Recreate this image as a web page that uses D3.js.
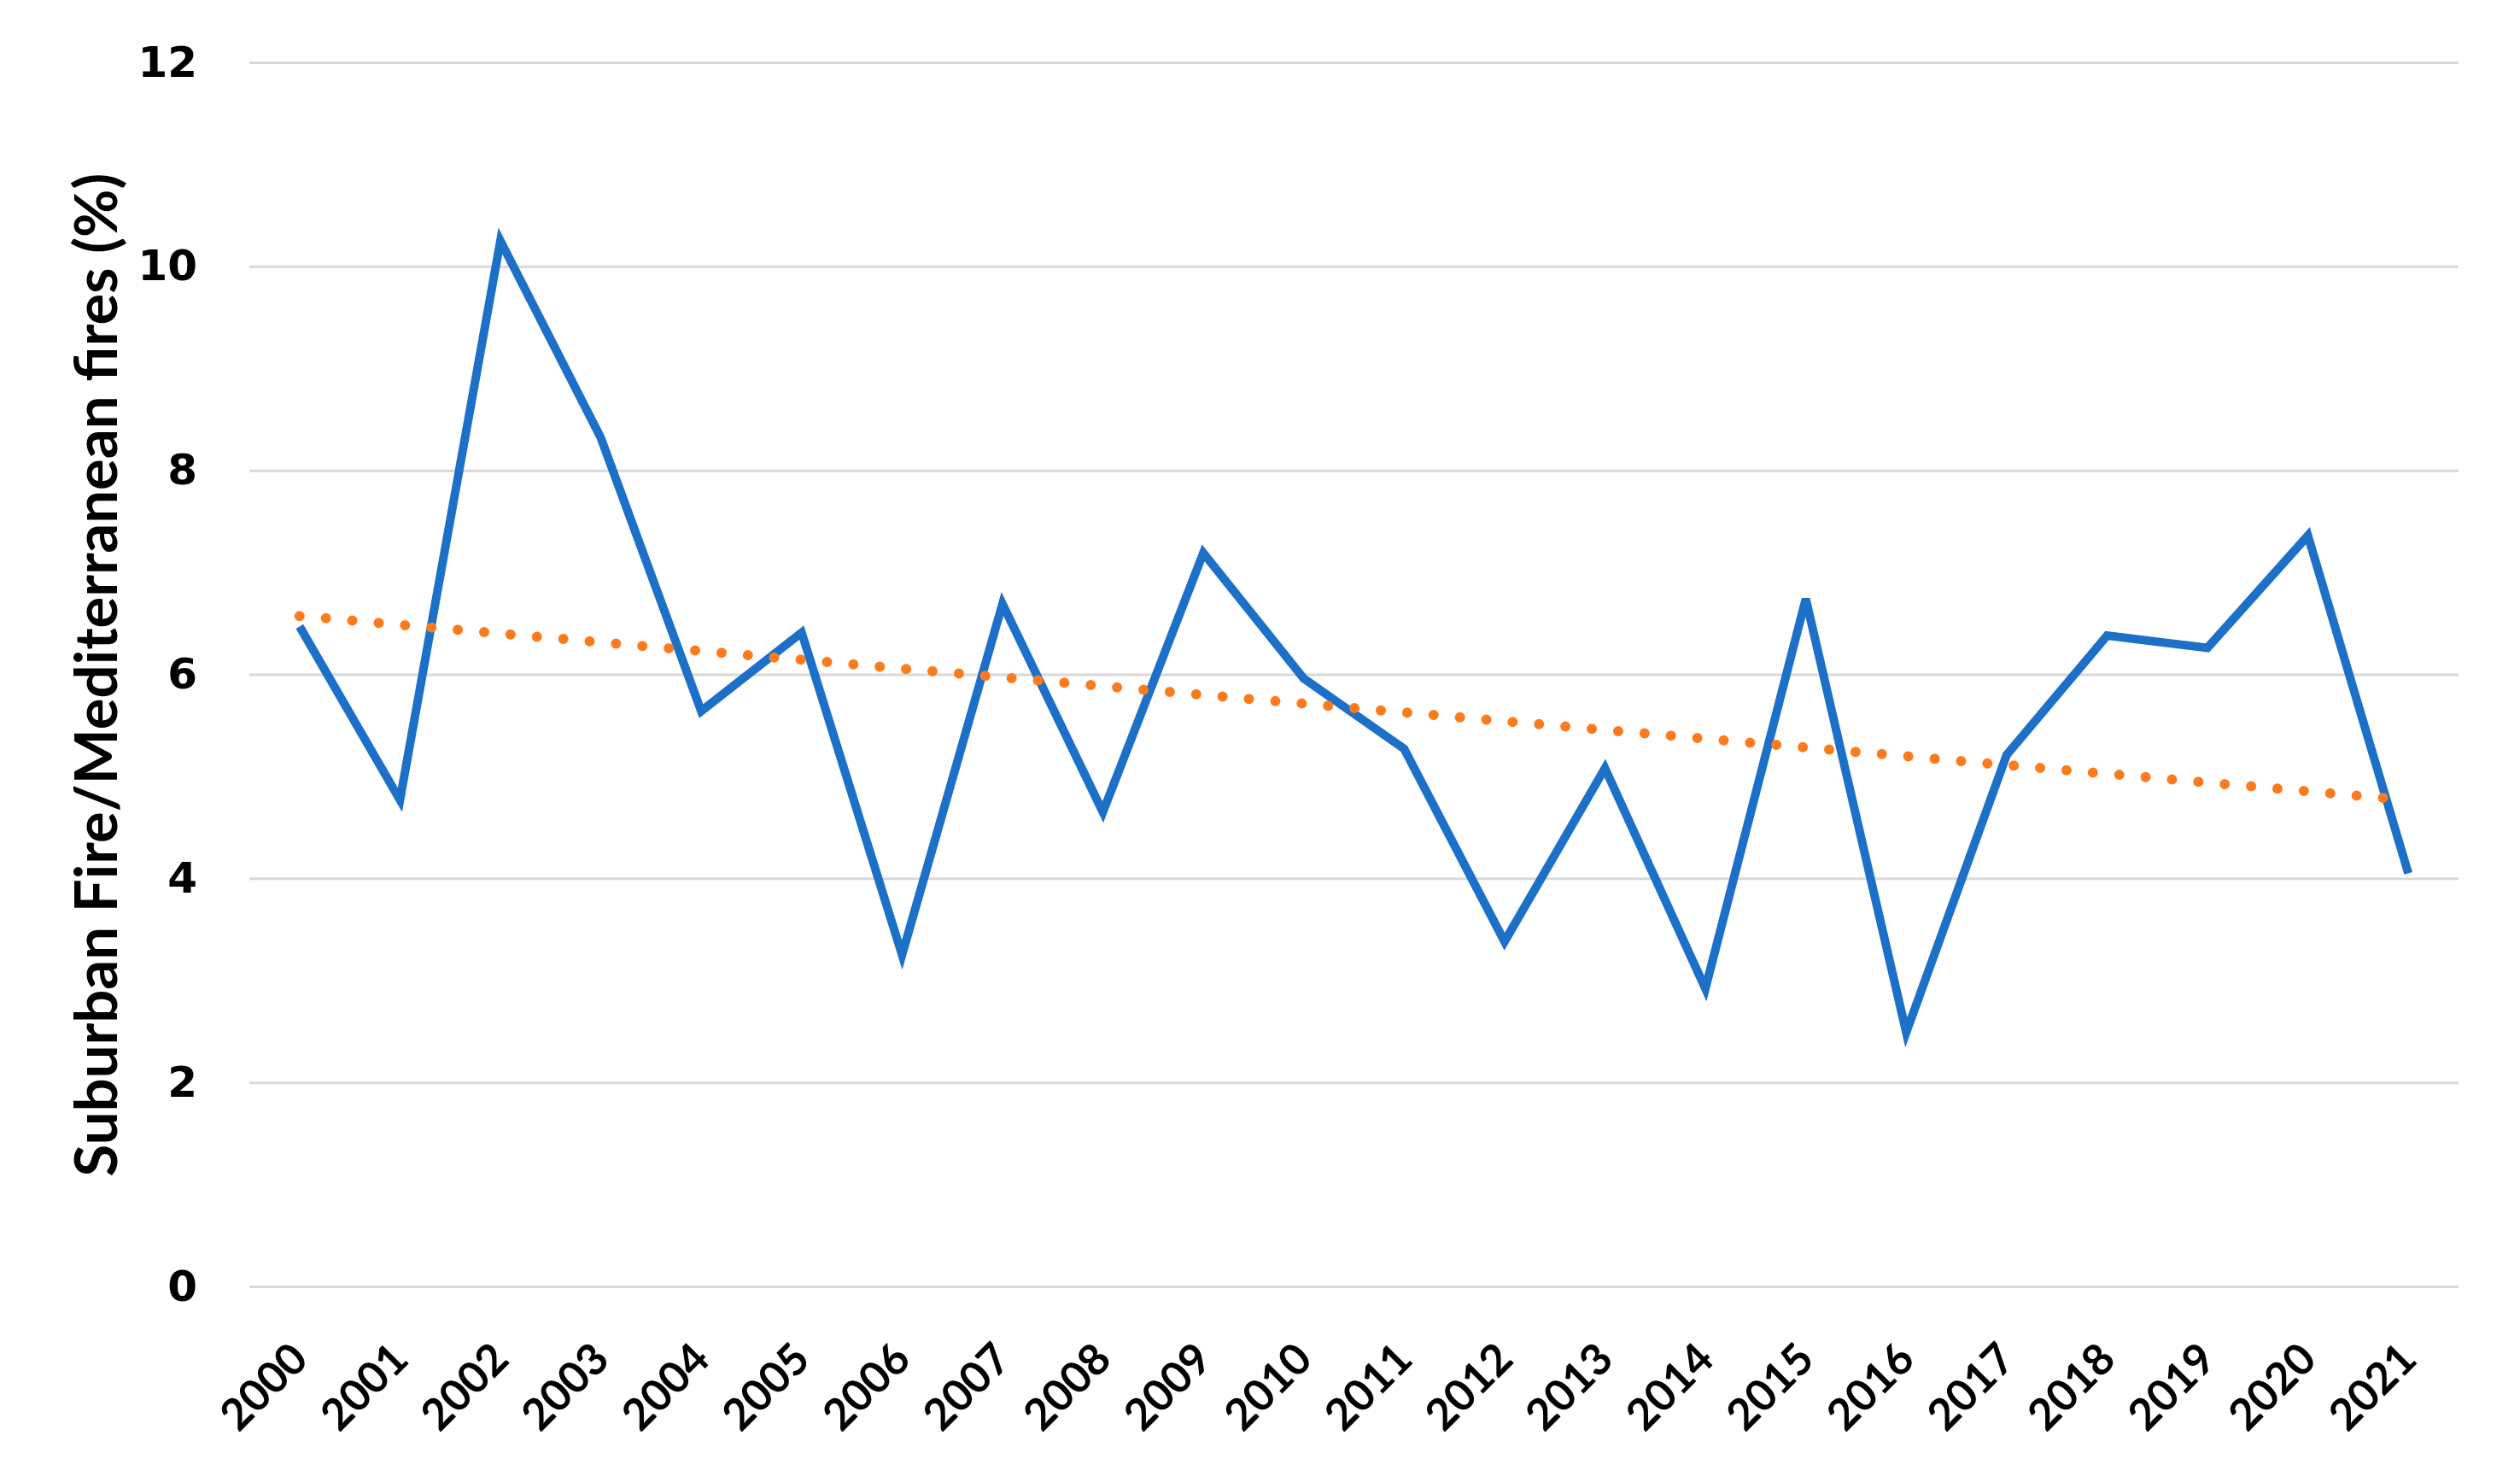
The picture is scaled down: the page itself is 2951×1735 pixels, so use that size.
<!DOCTYPE html>
<html>
<head>
<meta charset="utf-8">
<script src="https://cdn.jsdelivr.net/npm/d3@7"></script>
<style>
html, body { margin: 0; padding: 0; background: #fff; }
</style>
</head>
<body>
<div id="chart"></div>
<script>
var years = ["2000", "2001", "2002", "2003", "2004", "2005", "2006", "2007", "2008", "2009", "2010",
    "2011", "2012", "2013", "2014", "2015", "2016", "2017", "2018", "2019", "2020", "2021"];
var shares = [6.47, 4.77, 10.25, 8.32, 5.64, 6.41, 3.25, 6.69, 4.65, 7.19, 5.96,
    5.27, 3.38, 5.08, 2.92, 6.74, 2.49, 5.21, 6.38, 6.26, 7.36, 4.05];
var yTicks = [0, 2, 4, 6, 8, 10, 12];
var yTitle = "Suburban Fire/Mediterranean fires (%)";

(function () {
    var width = 2951,
        height = 1735,
        left = 292,
        right = 2879,
        top = 73,
        bottom = 1506;

    var svg = d3.select("#chart").append("svg")
        .attr("width", width)
        .attr("height", height)
        .style("display", "block");

    var x = d3.scalePoint().domain(years).range([left, right]).padding(0.5);
    var y = d3.scaleLinear().domain([0, 12]).range([bottom, top]);

    // gridlines and y labels
    var yAxis = svg.append("g")
        .attr("transform", "translate(" + left + ",0)")
        .call(d3.axisLeft(y).tickValues(yTicks).tickSize(-(right - left)).tickPadding(61));
    yAxis.select(".domain").remove();
    yAxis.selectAll(".tick line")
        .attr("stroke", "#d9d9d9")
        .attr("stroke-width", 3);
    yAxis.selectAll(".tick text")
        .attr("font-family", "DejaVu Sans")
        .attr("font-weight", "bold")
        .attr("font-size", 50)
        .attr("fill", "#000");

    var xAxis = svg.append("g")
        .attr("transform", "translate(0," + bottom + ")")
        .call(d3.axisBottom(x).tickSize(0));
    xAxis.select(".domain").remove();
    xAxis.selectAll(".tick text")
        .attr("x", 0)
        .attr("y", 0)
        .attr("dy", 0)
        .attr("text-anchor", "end")
        .attr("transform", "translate(12,88) rotate(-45)")
        .attr("font-family", "Lato")
        .attr("font-weight", "bold")
        .attr("font-size", 51)
        .attr("fill", "#000");

    var line = d3.line()
        .x(function (d, i) { return x(years[i]); })
        .y(function (d) { return y(d); });

    svg.append("path")
        .datum(shares)
        .attr("fill", "none")
        .attr("stroke", "#1c70c8")
        .attr("stroke-width", 10)
        .attr("stroke-linejoin", "miter")
        .attr("d", line);

    // linear trend (least squares)
    var n = shares.length,
        mx = (n - 1) / 2,
        my = d3.mean(shares);
    var sxy = d3.sum(shares, function (v, i) { return (i - mx) * (v - my); });
    var sxx = d3.sum(shares, function (v, i) { return (i - mx) * (i - mx); });
    var slope = sxy / sxx;
    var trend = [0, n - 1].map(function (i) {
        return { year: years[i], value: my + slope * (i - mx) };
    });

    svg.append("path")
        .datum(trend)
        .attr("fill", "none")
        .attr("stroke", "#fd7b1c")
        .attr("stroke-width", 12)
        .attr("stroke-linecap", "round")
        .attr("stroke-dasharray", "0 31")
        .attr("d", d3.line()
            .x(function (d) { return x(d.year); })
            .y(function (d) { return y(d.value); }));

    var title = svg.append("text")
        .attr("transform", "translate(137,790) rotate(-90)")
        .attr("text-anchor", "middle")
        .attr("font-family", "Lato")
        .attr("font-weight", "bold")
        .attr("font-size", 64)
        .attr("fill", "#000")
        .text(yTitle);
    var len = title.node().getComputedTextLength();
    title.attr("font-size", 64 * 1175 / len);
})();
</script>
</body>
</html>
